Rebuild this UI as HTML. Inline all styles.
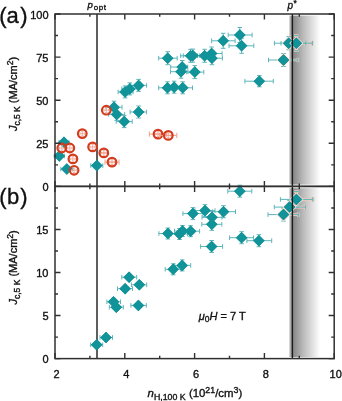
<!DOCTYPE html><html><head><meta charset="utf-8"><style>html,body{margin:0;padding:0;background:#fff;overflow:hidden}svg{display:block;will-change:transform}text{font-family:"Liberation Sans",sans-serif;stroke:#111;stroke-width:0.35px}</style></head><body>
<svg width="342" height="401" viewBox="0 0 342 401">
<defs><linearGradient id="g" x1="288.5" x2="320" y1="0" y2="0" gradientUnits="userSpaceOnUse"><stop offset="0" stop-color="#fff"/><stop offset="0.08" stop-color="#9a9a9a"/><stop offset="0.17" stop-color="#8a8a8a"/><stop offset="0.45" stop-color="#b8b8b8"/><stop offset="0.75" stop-color="#dedede"/><stop offset="1" stop-color="#fff"/></linearGradient><clipPath id="gc"><rect x="289" y="0" width="40" height="401"/></clipPath></defs>
<rect width="342" height="401" fill="#fff"/>
<rect x="288.5" y="15.6" width="31.5" height="169.0" fill="url(#g)"/>
<rect x="288.5" y="188.2" width="31.5" height="169.0" fill="url(#g)"/>
<line x1="97.0" y1="14.0" x2="97.0" y2="358.6" stroke="#363636" stroke-width="1.6"/>
<path d="M59.00 142.20H69.00M59.00 139.90V144.50M69.00 139.90V144.50M54.30 156.00H64.30M54.30 153.70V158.30M64.30 153.70V158.30M60.80 169.10H72.80M60.80 166.80V171.40M72.80 166.80V171.40M90.80 165.60H102.80M90.80 163.30V167.90M102.80 163.30V167.90M116.20 121.60H132.20M116.20 119.30V123.90M132.20 119.30V123.90M124.20 115.60V127.60M121.90 115.60H126.50M121.90 127.60H126.50M118.10 91.90H133.10M118.10 89.60V94.20M133.10 89.60V94.20M125.10 85.90V97.90M122.80 85.90H127.40M122.80 97.90H127.40M121.80 88.90H137.80M121.80 86.60V91.20M137.80 86.60V91.20M129.80 82.90V94.90M127.50 82.90H132.10M127.50 94.90H132.10M130.60 85.40H146.60M130.60 83.10V87.70M146.60 83.10V87.70M138.60 79.40V91.40M136.30 79.40H140.90M136.30 91.40H140.90M106.00 107.20H122.00M106.00 104.90V109.50M122.00 104.90V109.50M114.00 101.20V113.20M111.70 101.20H116.30M111.70 113.20H116.30M108.70 114.40H124.70M108.70 112.10V116.70M124.70 112.10V116.70M116.70 108.40V120.40M114.40 108.40H119.00M114.40 120.40H119.00M130.10 112.00H146.60M130.10 109.70V114.30M146.60 109.70V114.30M138.60 106.00V118.00M136.30 106.00H140.90M136.30 118.00H140.90M158.70 58.20H177.20M158.70 55.90V60.50M177.20 55.90V60.50M167.70 51.70V64.70M165.40 51.70H170.00M165.40 64.70H170.00M180.70 55.80H197.60M180.70 53.50V58.10M197.60 53.50V58.10M190.60 49.30V62.30M188.30 49.30H192.90M188.30 62.30H192.90M183.30 55.60H199.80M183.30 53.30V57.90M199.80 53.30V57.90M192.80 49.10V62.10M190.50 49.10H195.10M190.50 62.10H195.10M197.60 55.80H211.60M197.60 53.50V58.10M211.60 53.50V58.10M204.60 49.30V62.30M202.30 49.30H206.90M202.30 62.30H206.90M204.60 53.50H222.10M204.60 51.20V55.80M222.10 51.20V55.80M211.60 47.00V60.00M209.30 47.00H213.90M209.30 60.00H213.90M204.90 58.20H222.40M204.90 55.90V60.50M222.40 55.90V60.50M211.90 51.70V64.70M209.60 51.70H214.20M209.60 64.70H214.20M170.70 67.00H187.70M170.70 64.70V69.30M187.70 64.70V69.30M182.20 60.50V73.50M179.90 60.50H184.50M179.90 73.50H184.50M170.50 71.70H188.00M170.50 69.40V74.00M188.00 69.40V74.00M181.00 65.20V78.20M178.70 65.20H183.30M178.70 78.20H183.30M186.80 72.10H203.80M186.80 69.80V74.40M203.80 69.80V74.40M194.80 65.60V78.60M192.50 65.60H197.10M192.50 78.60H197.10M158.70 87.80H176.50M158.70 85.50V90.10M176.50 85.50V90.10M167.50 81.80V93.80M165.20 81.80H169.80M165.20 93.80H169.80M165.10 87.20H183.10M165.10 84.90V89.50M183.10 84.90V89.50M174.10 81.20V93.20M171.80 81.20H176.40M171.80 93.20H176.40M173.70 87.80H192.50M173.70 85.50V90.10M192.50 85.50V90.10M182.70 81.80V93.80M180.40 81.80H185.00M180.40 93.80H185.00M211.60 40.80H235.10M211.60 38.50V43.10M235.10 38.50V43.10M223.20 33.30V48.30M220.90 33.30H225.50M220.90 48.30H225.50M228.20 35.00H252.10M228.20 32.70V37.30M252.10 32.70V37.30M239.80 27.50V42.50M237.50 27.50H242.10M237.50 42.50H242.10M229.00 45.80H253.80M229.00 43.50V48.10M253.80 43.50V48.10M241.60 38.30V53.30M239.30 38.30H243.90M239.30 53.30H243.90M244.90 81.20H273.30M244.90 78.90V83.50M273.30 78.90V83.50M259.30 75.60V86.80M257.00 75.60H261.60M257.00 86.80H261.60M90.70 344.80H102.70M90.70 342.50V347.10M102.70 342.50V347.10M100.00 337.50H112.50M100.00 335.20V339.80M112.50 335.20V339.80M106.90 301.80H120.50M106.90 299.50V304.10M120.50 299.50V304.10M109.30 307.20H123.30M109.30 304.90V309.50M123.30 304.90V309.50M117.50 288.70H132.50M117.50 286.40V291.00M132.50 286.40V291.00M121.80 277.20H136.70M121.80 274.90V279.50M136.70 274.90V279.50M131.40 284.80H146.70M131.40 282.50V287.10M146.70 282.50V287.10M130.90 305.40H146.30M130.90 303.10V307.70M146.30 303.10V307.70M165.20 269.30H181.20M165.20 267.00V271.60M181.20 267.00V271.60M173.20 263.80V274.80M170.90 263.80H175.50M170.90 274.80H175.50M174.20 265.40H190.70M174.20 263.10V267.70M190.70 263.10V267.70M182.20 259.90V270.90M179.90 259.90H184.50M179.90 270.90H184.50M158.90 233.50H176.90M158.90 231.20V235.80M176.90 231.20V235.80M167.90 228.00V239.00M165.60 228.00H170.20M165.60 239.00H170.20M171.50 234.00H187.50M171.50 231.70V236.30M187.50 231.70V236.30M179.50 228.50V239.50M177.20 228.50H181.80M177.20 239.50H181.80M174.50 231.00H190.50M174.50 228.70V233.30M190.50 228.70V233.30M182.50 225.50V236.50M180.20 225.50H184.80M180.20 236.50H184.80M181.60 231.20H199.60M181.60 228.90V233.50M199.60 228.90V233.50M190.60 225.70V236.70M188.30 225.70H192.90M188.30 236.70H192.90M182.90 213.60H202.90M182.90 211.30V215.90M202.90 211.30V215.90M192.90 207.60V219.60M190.60 207.60H195.20M190.60 219.60H195.20M195.00 210.60H215.00M195.00 208.30V212.90M215.00 208.30V212.90M205.00 204.60V216.60M202.70 204.60H207.30M202.70 216.60H207.30M202.00 217.30H222.00M202.00 215.00V219.60M222.00 215.00V219.60M212.00 211.30V223.30M209.70 211.30H214.30M209.70 223.30H214.30M201.80 224.30H221.80M201.80 222.00V226.60M221.80 222.00V226.60M211.80 218.30V230.30M209.50 218.30H214.10M209.50 230.30H214.10M212.50 211.70H235.50M212.50 209.40V214.00M235.50 209.40V214.00M223.50 205.70V217.70M221.20 205.70H225.80M221.20 217.70H225.80M200.60 246.50H222.60M200.60 244.20V248.80M222.60 244.20V248.80M211.60 240.50V252.50M209.30 240.50H213.90M209.30 252.50H213.90M227.80 191.20H251.80M227.80 188.90V193.50M251.80 188.90V193.50M239.80 185.20V197.20M237.50 185.20H242.10M237.50 197.20H242.10M229.60 237.70H253.60M229.60 235.40V240.00M253.60 235.40V240.00M241.60 231.70V243.70M239.30 231.70H243.90M239.30 243.70H243.90M246.90 240.70H271.70M246.90 238.40V243.00M271.70 238.40V243.00M258.90 234.70V246.70M256.60 234.70H261.20M256.60 246.70H261.20" stroke="#5db5b9" stroke-width="1" fill="none"/>
<path d="M64.00 136.70L69.50 142.20L64.00 147.70L58.50 142.20ZM59.30 150.50L64.80 156.00L59.30 161.50L53.80 156.00ZM66.80 163.60L72.30 169.10L66.80 174.60L61.30 169.10ZM96.80 160.10L102.30 165.60L96.80 171.10L91.30 165.60ZM124.20 116.10L129.70 121.60L124.20 127.10L118.70 121.60ZM125.10 86.40L130.60 91.90L125.10 97.40L119.60 91.90ZM129.80 83.40L135.30 88.90L129.80 94.40L124.30 88.90ZM138.60 79.90L144.10 85.40L138.60 90.90L133.10 85.40ZM114.00 101.70L119.50 107.20L114.00 112.70L108.50 107.20ZM116.70 108.90L122.20 114.40L116.70 119.90L111.20 114.40ZM138.60 106.50L144.10 112.00L138.60 117.50L133.10 112.00ZM167.70 52.70L173.20 58.20L167.70 63.70L162.20 58.20ZM190.60 50.30L196.10 55.80L190.60 61.30L185.10 55.80ZM192.80 50.10L198.30 55.60L192.80 61.10L187.30 55.60ZM204.60 50.30L210.10 55.80L204.60 61.30L199.10 55.80ZM211.60 48.00L217.10 53.50L211.60 59.00L206.10 53.50ZM211.90 52.70L217.40 58.20L211.90 63.70L206.40 58.20ZM182.20 61.50L187.70 67.00L182.20 72.50L176.70 67.00ZM181.00 66.20L186.50 71.70L181.00 77.20L175.50 71.70ZM194.80 66.60L200.30 72.10L194.80 77.60L189.30 72.10ZM167.50 82.30L173.00 87.80L167.50 93.30L162.00 87.80ZM174.10 81.70L179.60 87.20L174.10 92.70L168.60 87.20ZM182.70 82.30L188.20 87.80L182.70 93.30L177.20 87.80ZM223.20 35.30L228.70 40.80L223.20 46.30L217.70 40.80ZM239.80 29.50L245.30 35.00L239.80 40.50L234.30 35.00ZM241.60 40.30L247.10 45.80L241.60 51.30L236.10 45.80ZM259.30 75.70L264.80 81.20L259.30 86.70L253.80 81.20ZM96.70 339.30L102.20 344.80L96.70 350.30L91.20 344.80ZM106.00 332.00L111.50 337.50L106.00 343.00L100.50 337.50ZM113.50 296.30L119.00 301.80L113.50 307.30L108.00 301.80ZM116.30 301.70L121.80 307.20L116.30 312.70L110.80 307.20ZM125.10 283.20L130.60 288.70L125.10 294.20L119.60 288.70ZM129.10 271.70L134.60 277.20L129.10 282.70L123.60 277.20ZM139.30 279.30L144.80 284.80L139.30 290.30L133.80 284.80ZM138.40 299.90L143.90 305.40L138.40 310.90L132.90 305.40ZM173.20 263.80L178.70 269.30L173.20 274.80L167.70 269.30ZM182.20 259.90L187.70 265.40L182.20 270.90L176.70 265.40ZM167.90 228.00L173.40 233.50L167.90 239.00L162.40 233.50ZM179.50 228.50L185.00 234.00L179.50 239.50L174.00 234.00ZM182.50 225.50L188.00 231.00L182.50 236.50L177.00 231.00ZM190.60 225.70L196.10 231.20L190.60 236.70L185.10 231.20ZM192.90 208.10L198.40 213.60L192.90 219.10L187.40 213.60ZM205.00 205.10L210.50 210.60L205.00 216.10L199.50 210.60ZM212.00 211.80L217.50 217.30L212.00 222.80L206.50 217.30ZM211.80 218.80L217.30 224.30L211.80 229.80L206.30 224.30ZM223.50 206.20L229.00 211.70L223.50 217.20L218.00 211.70ZM211.60 241.00L217.10 246.50L211.60 252.00L206.10 246.50ZM239.80 185.70L245.30 191.20L239.80 196.70L234.30 191.20ZM241.60 232.20L247.10 237.70L241.60 243.20L236.10 237.70ZM258.90 235.20L264.40 240.70L258.90 246.20L253.40 240.70Z" fill="#10949a" stroke="#0e8489" stroke-width="0.5"/>
<path d="M64.00 136.70L69.50 142.20L64.00 147.70L58.50 142.20ZM59.30 150.50L64.80 156.00L59.30 161.50L53.80 156.00ZM66.80 163.60L72.30 169.10L66.80 174.60L61.30 169.10ZM96.80 160.10L102.30 165.60L96.80 171.10L91.30 165.60ZM124.20 116.10L129.70 121.60L124.20 127.10L118.70 121.60ZM125.10 86.40L130.60 91.90L125.10 97.40L119.60 91.90ZM129.80 83.40L135.30 88.90L129.80 94.40L124.30 88.90ZM138.60 79.90L144.10 85.40L138.60 90.90L133.10 85.40ZM114.00 101.70L119.50 107.20L114.00 112.70L108.50 107.20ZM116.70 108.90L122.20 114.40L116.70 119.90L111.20 114.40ZM138.60 106.50L144.10 112.00L138.60 117.50L133.10 112.00ZM167.70 52.70L173.20 58.20L167.70 63.70L162.20 58.20ZM190.60 50.30L196.10 55.80L190.60 61.30L185.10 55.80ZM192.80 50.10L198.30 55.60L192.80 61.10L187.30 55.60ZM204.60 50.30L210.10 55.80L204.60 61.30L199.10 55.80ZM211.60 48.00L217.10 53.50L211.60 59.00L206.10 53.50ZM211.90 52.70L217.40 58.20L211.90 63.70L206.40 58.20ZM182.20 61.50L187.70 67.00L182.20 72.50L176.70 67.00ZM181.00 66.20L186.50 71.70L181.00 77.20L175.50 71.70ZM194.80 66.60L200.30 72.10L194.80 77.60L189.30 72.10ZM167.50 82.30L173.00 87.80L167.50 93.30L162.00 87.80ZM174.10 81.70L179.60 87.20L174.10 92.70L168.60 87.20ZM182.70 82.30L188.20 87.80L182.70 93.30L177.20 87.80ZM223.20 35.30L228.70 40.80L223.20 46.30L217.70 40.80ZM239.80 29.50L245.30 35.00L239.80 40.50L234.30 35.00ZM241.60 40.30L247.10 45.80L241.60 51.30L236.10 45.80ZM259.30 75.70L264.80 81.20L259.30 86.70L253.80 81.20ZM96.70 339.30L102.20 344.80L96.70 350.30L91.20 344.80ZM106.00 332.00L111.50 337.50L106.00 343.00L100.50 337.50ZM113.50 296.30L119.00 301.80L113.50 307.30L108.00 301.80ZM116.30 301.70L121.80 307.20L116.30 312.70L110.80 307.20ZM125.10 283.20L130.60 288.70L125.10 294.20L119.60 288.70ZM129.10 271.70L134.60 277.20L129.10 282.70L123.60 277.20ZM139.30 279.30L144.80 284.80L139.30 290.30L133.80 284.80ZM138.40 299.90L143.90 305.40L138.40 310.90L132.90 305.40ZM173.20 263.80L178.70 269.30L173.20 274.80L167.70 269.30ZM182.20 259.90L187.70 265.40L182.20 270.90L176.70 265.40ZM167.90 228.00L173.40 233.50L167.90 239.00L162.40 233.50ZM179.50 228.50L185.00 234.00L179.50 239.50L174.00 234.00ZM182.50 225.50L188.00 231.00L182.50 236.50L177.00 231.00ZM190.60 225.70L196.10 231.20L190.60 236.70L185.10 231.20ZM192.90 208.10L198.40 213.60L192.90 219.10L187.40 213.60ZM205.00 205.10L210.50 210.60L205.00 216.10L199.50 210.60ZM212.00 211.80L217.50 217.30L212.00 222.80L206.50 217.30ZM211.80 218.80L217.30 224.30L211.80 229.80L206.30 224.30ZM223.50 206.20L229.00 211.70L223.50 217.20L218.00 211.70ZM211.60 241.00L217.10 246.50L211.60 252.00L206.10 246.50ZM239.80 185.70L245.30 191.20L239.80 196.70L234.30 191.20ZM241.60 232.20L247.10 237.70L241.60 243.20L236.10 237.70ZM258.90 235.20L264.40 240.70L258.90 246.20L253.40 240.70Z" fill="#10949a"/>
<path d="M274.40 43.20H305.80M274.40 40.90V45.50M305.80 40.90V45.50M288.70 36.60V49.80M286.40 36.60H291.00M286.40 49.80H291.00M281.00 43.20H312.40M281.00 40.90V45.50M312.40 40.90V45.50M296.30 35.60V50.80M294.00 35.60H298.60M294.00 50.80H298.60M268.50 60.00H297.90M268.50 57.70V62.30M297.90 57.70V62.30M283.50 53.50V66.50M281.20 53.50H285.80M281.20 66.50H285.80M268.00 214.60H298.30M268.00 212.30V216.90M298.30 212.30V216.90M283.50 208.10V221.10M281.20 208.10H285.80M281.20 221.10H285.80M274.30 207.10H305.70M274.30 204.80V209.40M305.70 204.80V209.40M289.60 200.60V213.60M287.30 200.60H291.90M287.30 213.60H291.90M280.40 199.40H312.90M280.40 197.10V201.70M312.90 197.10V201.70M296.40 191.50V207.30M294.10 191.50H298.70M294.10 207.30H298.70" stroke="#f0cabd" stroke-width="2.6" fill="none" clip-path="url(#gc)"/>
<path d="M274.40 43.20H305.80M274.40 40.90V45.50M305.80 40.90V45.50M288.70 36.60V49.80M286.40 36.60H291.00M286.40 49.80H291.00M281.00 43.20H312.40M281.00 40.90V45.50M312.40 40.90V45.50M296.30 35.60V50.80M294.00 35.60H298.60M294.00 50.80H298.60M268.50 60.00H297.90M268.50 57.70V62.30M297.90 57.70V62.30M283.50 53.50V66.50M281.20 53.50H285.80M281.20 66.50H285.80M268.00 214.60H298.30M268.00 212.30V216.90M298.30 212.30V216.90M283.50 208.10V221.10M281.20 208.10H285.80M281.20 221.10H285.80M274.30 207.10H305.70M274.30 204.80V209.40M305.70 204.80V209.40M289.60 200.60V213.60M287.30 200.60H291.90M287.30 213.60H291.90M280.40 199.40H312.90M280.40 197.10V201.70M312.90 197.10V201.70M296.40 191.50V207.30M294.10 191.50H298.70M294.10 207.30H298.70" stroke="#5db5b9" stroke-width="1" fill="none"/>
<path d="M288.70 37.70L294.20 43.20L288.70 48.70L283.20 43.20Z" fill="#10949a" stroke="#f6ddd4" stroke-width="2.2" paint-order="stroke"/>
<path d="M288.70 37.70L294.20 43.20L288.70 48.70L283.20 43.20Z" fill="#10949a" stroke="#0f8287" stroke-width="0.5"/>
<path d="M296.30 37.70L301.80 43.20L296.30 48.70L290.80 43.20Z" fill="#10949a" stroke="#f6ddd4" stroke-width="2.2" paint-order="stroke"/>
<path d="M296.30 37.70L301.80 43.20L296.30 48.70L290.80 43.20Z" fill="#10949a" stroke="#0f8287" stroke-width="0.5"/>
<path d="M283.50 54.50L289.00 60.00L283.50 65.50L278.00 60.00Z" fill="#10949a" stroke="#f6ddd4" stroke-width="2.2" paint-order="stroke"/>
<path d="M283.50 54.50L289.00 60.00L283.50 65.50L278.00 60.00Z" fill="#10949a" stroke="#0f8287" stroke-width="0.5"/>
<path d="M283.50 209.10L289.00 214.60L283.50 220.10L278.00 214.60Z" fill="#10949a" stroke="#f6ddd4" stroke-width="2.2" paint-order="stroke"/>
<path d="M283.50 209.10L289.00 214.60L283.50 220.10L278.00 214.60Z" fill="#10949a" stroke="#0f8287" stroke-width="0.5"/>
<path d="M289.60 201.60L295.10 207.10L289.60 212.60L284.10 207.10Z" fill="#10949a" stroke="#f6ddd4" stroke-width="2.2" paint-order="stroke"/>
<path d="M289.60 201.60L295.10 207.10L289.60 212.60L284.10 207.10Z" fill="#10949a" stroke="#0f8287" stroke-width="0.5"/>
<path d="M296.40 193.90L301.90 199.40L296.40 204.90L290.90 199.40Z" fill="#10949a" stroke="#f6ddd4" stroke-width="2.2" paint-order="stroke"/>
<path d="M296.40 193.90L301.90 199.40L296.40 204.90L290.90 199.40Z" fill="#10949a" stroke="#0f8287" stroke-width="0.5"/>
<path d="M80.00 133.60H84.60M82.30 131.30V135.90M80.00 132.40V134.80M84.60 132.40V134.80M81.10 131.30H83.50M81.10 135.90H83.50" stroke="#f0a08c" stroke-width="0.8" fill="none"/><circle cx="82.30" cy="133.60" r="4.3" fill="none" stroke="#d43a1c" stroke-width="2.2"/>
<path d="M59.50 148.00H64.10M61.80 145.70V150.30M59.50 146.80V149.20M64.10 146.80V149.20M60.60 145.70H63.00M60.60 150.30H63.00" stroke="#f0a08c" stroke-width="0.8" fill="none"/><circle cx="61.80" cy="148.00" r="4.3" fill="none" stroke="#d43a1c" stroke-width="2.2"/>
<path d="M67.50 148.00H72.10M69.80 145.70V150.30M67.50 146.80V149.20M72.10 146.80V149.20M68.60 145.70H71.00M68.60 150.30H71.00" stroke="#f0a08c" stroke-width="0.8" fill="none"/><circle cx="69.80" cy="148.00" r="4.3" fill="none" stroke="#d43a1c" stroke-width="2.2"/>
<path d="M90.30 146.90H94.90M92.60 144.60V149.20M90.30 145.70V148.10M94.90 145.70V148.10M91.40 144.60H93.80M91.40 149.20H93.80" stroke="#f0a08c" stroke-width="0.8" fill="none"/><circle cx="92.60" cy="146.90" r="4.3" fill="none" stroke="#d43a1c" stroke-width="2.2"/>
<path d="M99.80 152.90H107.80M99.80 150.30V155.50M107.80 150.30V155.50" stroke="#f0a08c" stroke-width="1" fill="none"/><path d="M101.50 152.90H106.10M103.80 150.60V155.20M101.50 151.70V154.10M106.10 151.70V154.10M102.60 150.60H105.00M102.60 155.20H105.00" stroke="#f0a08c" stroke-width="0.8" fill="none"/><circle cx="103.80" cy="152.90" r="4.3" fill="none" stroke="#d43a1c" stroke-width="2.2"/>
<path d="M70.60 158.90H75.20M72.90 156.60V161.20M70.60 157.70V160.10M75.20 157.70V160.10M71.70 156.60H74.10M71.70 161.20H74.10" stroke="#f0a08c" stroke-width="0.8" fill="none"/><circle cx="72.90" cy="158.90" r="4.3" fill="none" stroke="#d43a1c" stroke-width="2.2"/>
<path d="M105.00 162.10H119.00M105.00 159.50V164.70M119.00 159.50V164.70" stroke="#f0a08c" stroke-width="1" fill="none"/><path d="M109.70 162.10H114.30M112.00 159.80V164.40M109.70 160.90V163.30M114.30 160.90V163.30M110.80 159.80H113.20M110.80 164.40H113.20" stroke="#f0a08c" stroke-width="0.8" fill="none"/><circle cx="112.00" cy="162.10" r="4.3" fill="none" stroke="#d43a1c" stroke-width="2.2"/>
<path d="M71.80 170.30H76.40M74.10 168.00V172.60M71.80 169.10V171.50M76.40 169.10V171.50M72.90 168.00H75.30M72.90 172.60H75.30" stroke="#f0a08c" stroke-width="0.8" fill="none"/><circle cx="74.10" cy="170.30" r="4.3" fill="none" stroke="#d43a1c" stroke-width="2.2"/>
<path d="M104.00 110.20H108.60M106.30 107.90V112.50M104.00 109.00V111.40M108.60 109.00V111.40M105.10 107.90H107.50M105.10 112.50H107.50" stroke="#f0a08c" stroke-width="0.8" fill="none"/><circle cx="106.30" cy="110.20" r="4.3" fill="none" stroke="#d43a1c" stroke-width="2.2"/>
<path d="M149.40 134.10H166.60M149.40 131.50V136.70M166.60 131.50V136.70" stroke="#f0a08c" stroke-width="1" fill="none"/><path d="M155.70 134.10H160.30M158.00 131.80V136.40M155.70 132.90V135.30M160.30 132.90V135.30M156.80 131.80H159.20M156.80 136.40H159.20" stroke="#f0a08c" stroke-width="0.8" fill="none"/><circle cx="158.00" cy="134.10" r="4.3" fill="none" stroke="#d43a1c" stroke-width="2.2"/>
<path d="M159.80 135.40H176.80M159.80 132.80V138.00M176.80 132.80V138.00" stroke="#f0a08c" stroke-width="1" fill="none"/><path d="M166.00 135.40H170.60M168.30 133.10V137.70M166.00 134.20V136.60M170.60 134.20V136.60M167.10 133.10H169.50M167.10 137.70H169.50" stroke="#f0a08c" stroke-width="0.8" fill="none"/><circle cx="168.30" cy="135.40" r="4.3" fill="none" stroke="#d43a1c" stroke-width="2.2"/>
<line x1="292.4" y1="14.0" x2="292.4" y2="358.6" stroke="#1a1a1a" stroke-width="1.4"/>
<rect x="55.0" y="14.0" width="279.2" height="172.4" fill="none" stroke="#303030" stroke-width="1.5"/>
<rect x="55.0" y="186.4" width="279.2" height="172.20000000000002" fill="none" stroke="#303030" stroke-width="1.5"/>
<path d="M55.00 14.0V19.5M55.00 186.4V180.9M55.00 186.4V191.9M55.00 358.6V353.1M89.90 14.0V16.8M89.90 186.4V183.6M89.90 186.4V189.20000000000002M89.90 358.6V355.8M124.80 14.0V19.5M124.80 186.4V180.9M124.80 186.4V191.9M124.80 358.6V353.1M159.70 14.0V16.8M159.70 186.4V183.6M159.70 186.4V189.20000000000002M159.70 358.6V355.8M194.60 14.0V19.5M194.60 186.4V180.9M194.60 186.4V191.9M194.60 358.6V353.1M229.50 14.0V16.8M229.50 186.4V183.6M229.50 186.4V189.20000000000002M229.50 358.6V355.8M264.40 14.0V19.5M264.40 186.4V180.9M264.40 186.4V191.9M264.40 358.6V353.1M299.30 14.0V16.8M299.30 186.4V183.6M299.30 186.4V189.20000000000002M299.30 358.6V355.8M334.20 14.0V19.5M334.20 186.4V180.9M334.20 186.4V191.9M334.20 358.6V353.1M55.0 186.40H60.5M334.2 186.40H328.7M55.0 358.60H60.5M334.2 358.60H328.7M55.0 164.85H58.0M334.2 164.85H331.2M55.0 337.08H58.0M334.2 337.08H331.2M55.0 143.30H60.5M334.2 143.30H328.7M55.0 315.55H60.5M334.2 315.55H328.7M55.0 121.75H58.0M334.2 121.75H331.2M55.0 294.03H58.0M334.2 294.03H331.2M55.0 100.20H60.5M334.2 100.20H328.7M55.0 272.50H60.5M334.2 272.50H328.7M55.0 78.65H58.0M334.2 78.65H331.2M55.0 250.98H58.0M334.2 250.98H331.2M55.0 57.10H60.5M334.2 57.10H328.7M55.0 229.45H60.5M334.2 229.45H328.7M55.0 35.55H58.0M334.2 35.55H331.2M55.0 207.93H58.0M334.2 207.93H331.2M55.0 14.00H60.5M334.2 14.00H328.7M55.0 186.40H60.5M334.2 186.40H328.7" stroke="#303030" stroke-width="1.4" fill="none"/>
<text x="48.5" y="18.60" font-size="11" text-anchor="end" fill="#111">100</text>
<text x="48.5" y="61.70" font-size="11" text-anchor="end" fill="#111">75</text>
<text x="48.5" y="104.80" font-size="11" text-anchor="end" fill="#111">50</text>
<text x="48.5" y="147.90" font-size="11" text-anchor="end" fill="#111">25</text>
<text x="48.5" y="191.00" font-size="11" text-anchor="end" fill="#111">0</text>
<text x="48.5" y="234.05" font-size="11" text-anchor="end" fill="#111">15</text>
<text x="48.5" y="277.10" font-size="11" text-anchor="end" fill="#111">10</text>
<text x="48.5" y="320.15" font-size="11" text-anchor="end" fill="#111">5</text>
<text x="48.5" y="363.20" font-size="11" text-anchor="end" fill="#111">0</text>
<text x="56.50" y="377.8" font-size="11" text-anchor="middle" fill="#111">2</text>
<text x="126.30" y="377.8" font-size="11" text-anchor="middle" fill="#111">4</text>
<text x="196.10" y="377.8" font-size="11" text-anchor="middle" fill="#111">6</text>
<text x="265.90" y="377.8" font-size="11" text-anchor="middle" fill="#111">8</text>
<text x="335.70" y="377.8" font-size="11" text-anchor="middle" fill="#111">10</text>
<text y="22.9" font-size="22" fill="#111"><tspan x="-0.86">(</tspan><tspan x="6.58">a</tspan><tspan x="20.27">)</tspan></text>
<text y="203.5" font-size="22" fill="#111"><tspan x="-0.86">(</tspan><tspan x="7.0">b</tspan><tspan x="20.27">)</tspan></text>
<text transform="translate(17.4 94) rotate(-90)" font-size="11" text-anchor="middle" fill="#111"><tspan font-style="italic">J</tspan><tspan font-size="8.5" dy="2.2">c,5 K</tspan><tspan dy="-2.2"> (MA/cm</tspan><tspan font-size="8.5" dy="-4">2</tspan><tspan dy="4">)</tspan></text>
<text transform="translate(17.4 267.4) rotate(-90)" font-size="11" text-anchor="middle" fill="#111"><tspan font-style="italic">J</tspan><tspan font-size="8.5" dy="2.2">c,5 K</tspan><tspan dy="-2.2"> (MA/cm</tspan><tspan font-size="8.5" dy="-4">2</tspan><tspan dy="4">)</tspan></text>
<text x="194.9" y="397.4" font-size="11.4" text-anchor="middle" fill="#111"><tspan font-style="italic">n</tspan><tspan font-size="8.8" dy="2.2">H,100 K</tspan><tspan dy="-2.2"> (10</tspan><tspan font-size="8.8" dy="-4">21</tspan><tspan dy="4">/cm</tspan><tspan font-size="8.8" dy="-4">3</tspan><tspan dy="4">)</tspan></text>
<text x="87.4" y="7.6" font-size="9.6" fill="#111"><tspan font-style="italic">p</tspan><tspan font-size="8" dx="0.9" dy="2.1" letter-spacing="0.6">opt</tspan></text>
<text x="287.6" y="8.6" font-size="10" fill="#111"><tspan font-style="italic">p</tspan><tspan font-size="8.5" dx="0.3" dy="-2.4">*</tspan></text>
<text x="198.8" y="320.0" font-size="11" fill="#111"><tspan font-style="italic">μ</tspan><tspan font-size="8.5" dy="2.2">0</tspan><tspan font-style="italic" dy="-2.2">H</tspan> = 7 T</text>
</svg></body></html>
